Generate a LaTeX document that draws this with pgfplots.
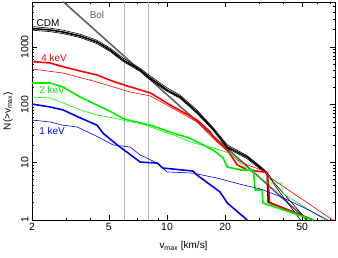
\documentclass[border=0pt]{standalone}
\usepackage{fontspec}
\setmainfont{Liberation Sans}
\usepackage{pgfplots}
\pgfplotsset{compat=1.18}
\definecolor{bolgray}{gray}{0.38}
\definecolor{vgray}{gray}{0.72}
\definecolor{kred}{RGB}{255,0,0}
\definecolor{kgreen}{RGB}{0,240,0}
\definecolor{kblue}{RGB}{0,0,255}

\begin{document}
\begin{tikzpicture}[x=1bp,y=1bp]
\begin{axis}[at={(0,0)}, anchor=south west, scale only axis,
  width=303bp, height=218bp,
  xmode=log, ymode=log, xmin=2, xmax=74, ymin=1, ymax=6000,
  xtick={2,5,10,20,50}, xticklabels={2,5,10,20,50},
  minor xtick={3,4,6,7,8,9,30,40,60,70},
  ytick={1,10,100,1000}, yticklabels={1,10,100,1000},
  minor ytick={2,3,4,5,6,7,8,9,20,30,40,50,60,70,80,90,200,300,400,500,600,700,800,900,2000,3000,4000,5000},
  tick align=inside, major tick length=5bp, minor tick length=2.5bp,
  tick style={black, line width=0.5bp},
  axis line style={line width=0.8bp},
  ticklabel style={font=\fontsize{10.5}{11}\selectfont},
  yticklabel style={rotate=90, anchor=south},
  xlabel={v\textsubscript{max} [km/s]}, ylabel={N(>v\textsubscript{max})},
  label style={font=\fontsize{10}{11}\selectfont},
  xlabel style={at={(axis description cs:0.5,-0.12)}, anchor=center},
  ylabel style={at={(axis description cs:-0.079,0.5)}, anchor=center},
  clip=true]

% reference velocities
\addplot[vgray, line width=0.8bp] coordinates {(6,1) (6,6000)};
\addplot[vgray, line width=0.8bp] coordinates {(8,1) (8,6000)};

% Bol
\addplot[bolgray, line width=1.6bp] coordinates {(2.9,6090) (53,1)};

% CDM
\addplot[black, line width=0.6bp] coordinates {(2,2250) (2.48,2110) (2.89,1950) (3.55,1660) (4.34,1300) (5.08,950) (5.92,640) (7.26,425) (8,330) (10,195) (11.7,145) (14.3,80) (17.3,40) (20.5,20) (26,13) (31.4,7.8) (34,5.8) (36,4) (49,1)};
\addplot[black, line width=0.6bp] coordinates {(2,1950) (2.48,1840) (2.89,1700) (3.55,1450) (4.34,1140) (5.08,830) (5.92,560) (7.26,375) (8,285) (10,170) (11.7,128) (14.3,70) (17.3,36) (20.5,17.5) (26,11.5) (31.4,7) (33,6) (53,1)};
\addplot[black, line width=1.6bp] coordinates {(2,2084) (2.48,1966) (2.89,1812) (3.55,1545) (4.34,1216) (5.08,884) (5.92,593) (7.26,398) (8,305) (10,179) (11.7,135) (14.3,74) (17.3,37.8) (20.5,18.4) (26,12.3) (31.4,7.4) (33,6.5) (33.4,2.05) (57,1)};

% 4 keV
\addplot[kred, line width=0.6bp] coordinates {(2,414) (2.89,353) (4.34,246) (6.44,165) (8.2,141) (10.4,91) (14.3,50) (17.3,26) (23.1,11) (26,9) (31.4,7.2) (34,5.5) (72,1)};
\addplot[kred, line width=1.6bp] coordinates {(2,558) (2.48,526) (2.89,454) (3.55,382) (4.34,326) (5.2,256) (6,219) (7.26,180) (8.2,159) (10.4,98) (12,75) (14.3,54) (16.7,34) (17.3,28) (20.5,16.3) (23.1,9) (26,7.4) (31.4,6.8) (33,6.7) (34,1.97) (57,1)};

% 2 keV
\addplot[kgreen, line width=0.6bp] coordinates {(2,135) (2.48,130) (2.89,107) (3.55,81) (4.34,66) (5.26,59) (6.44,50) (7.26,48) (8.2,41) (10.8,29.7) (13.2,22.5) (17.3,17.7) (21,14.5) (23.1,10.9) (26,7.5) (28,6.5) (33,4.38) (39.4,4.38) (39.4,2.94) (66,1)};
\addplot[kgreen, line width=1.6bp] coordinates {(2,237) (2.48,237) (2.89,202) (3.55,135) (4.34,98) (5.26,72) (5.92,57) (7.26,48) (8.2,44) (10.8,32) (13.2,26) (17.3,16.3) (19.5,11.9) (20.5,8.3) (23.9,7.36) (27.9,7.36) (28.6,3.31) (31,3.31) (31.4,1.97) (57,1)};

% 1 keV
\addplot[kblue, line width=0.6bp] coordinates {(2,54) (2.48,50) (2.89,44) (3.42,41) (4,32) (4.5,26.4) (5.26,20) (6.44,18.4) (7.26,13.4) (8.9,9.7) (10,6.8) (13.6,6.5) (18.1,5.34) (24.8,4.04) (30,3.5) (38,2.6) (50,1.7) (68,1)};
\addplot[kblue, line width=1.6bp] coordinates {(2,102) (2.48,91) (2.89,81) (3.55,59) (4.34,44) (4.66,32) (5.52,20) (6.2,15) (7.26,10.1) (8.9,9.7) (9.5,7.96) (13.6,7.06) (14.3,6.0) (18.8,3.06) (20.5,1.97) (26,1)};

\node[font=\fontsize{10}{11}\selectfont, text=black] at (axis cs:2.42,2543) {CDM};
\node[font=\fontsize{10}{11}\selectfont, text=kred] at (axis cs:2.6,642) {4 keV};
\node[font=\fontsize{10}{11}\selectfont, text=kgreen] at (axis cs:2.54,183) {2 keV};
\node[font=\fontsize{10}{11}\selectfont, text=kblue] at (axis cs:2.54,35) {1 keV};
\node[font=\fontsize{10}{11}\selectfont, text=bolgray] at (axis cs:4.34,3573) {Bol};
\end{axis}
\pgfresetboundingbox
\path (-32,-38) rectangle (306,220);
\end{tikzpicture}
\end{document}
